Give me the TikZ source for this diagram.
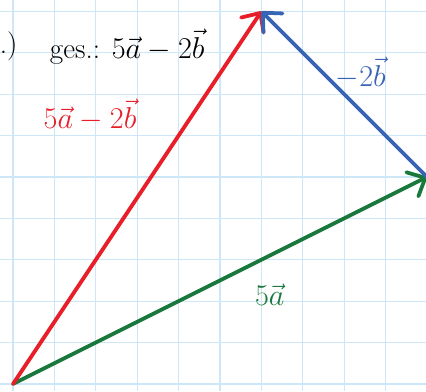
\documentclass[tikz,border=0pt]{standalone}
\usepackage{amsmath}
\usetikzlibrary{arrows.meta}

\definecolor{pengrid}{RGB}{205,230,248}
\definecolor{penred}{RGB}{232,30,40}
\definecolor{penblue}{RGB}{55,100,180}
\definecolor{pengreen}{RGB}{25,120,60}

\begin{document}
\begin{tikzpicture}[
  vec/.style={draw, line width=2.6pt, line cap=round, -{Straight Barb[length=3.5mm, width=6.5mm, line cap=round, line join=round]}},
  hand/.style={font=\fontsize{20}{24}\selectfont, inner sep=1pt}
]

\useasboundingbox (-0.314,-0.17) rectangle (9.976,9.275);
\draw [pengrid, line width=0.8pt] (-0.314,-0.17) grid (9.976,9.275);

\coordinate (O) at (0,0);
\coordinate (A) at (10,5);
\coordinate (C) at (6,9);

\path [vec, pengreen] (O) -- (A);
\path [vec, penred] (O) -- (C);
\path [vec, penblue] (A) -- (C);

\node [hand, anchor=east] (part) at (0.15,8.15) {b.)};
\node [hand, anchor=west] (given) at (0.85,8.15) {ges.: $5\vec{a}-2\vec{b}$};
\node [hand, penred] (sumlbl) at (1.86,6.5) {$5\vec{a}-2\vec{b}$};
\node [hand, penblue] (blbl) at (8.4,7.5) {$-2\vec{b}$};
\node [hand, pengreen] (albl) at (6.2,2.15) {$5\vec{a}$};

\end{tikzpicture}
\end{document}
